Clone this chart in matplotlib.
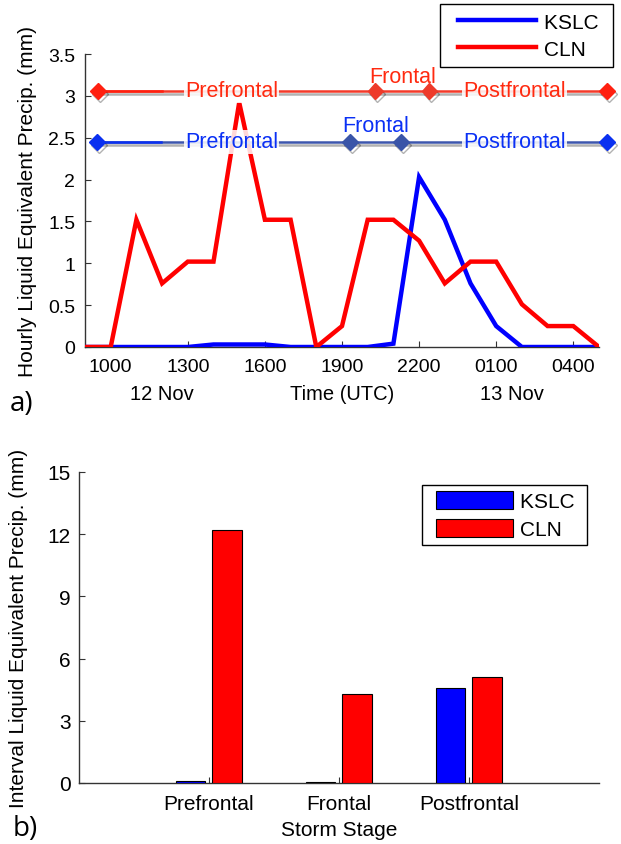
import matplotlib
matplotlib.use('Agg')
import matplotlib.pyplot as plt
import numpy as np
from matplotlib import patheffects as pe
from matplotlib.legend_handler import HandlerLine2D, HandlerPatch
from matplotlib.patches import Rectangle
from matplotlib.lines import Line2D

plt.rcParams['font.family'] = ['Liberation Sans', 'DejaVu Sans']

# ---------------- data ----------------
hour_labels = ['0900', '1000', '1100', '1200', '1300', '1400', '1500', '1600',
               '1700', '1800', '1900', '2000', '2100', '2200', '2300', '0000',
               '0100', '0200', '0300', '0400', '0500']
kslc_hourly = [0, 0, 0, 0, 0, 0.03, 0.03, 0.03, 0, 0, 0, 0, 0.04,
               2.03, 1.52, 0.76, 0.25, 0, 0, 0, 0]
cln_hourly = [0, 0, 1.52, 0.76, 1.02, 1.02, 2.92, 1.52, 1.52, 0, 0.25,
              1.52, 1.52, 1.27, 0.76, 1.02, 1.02, 0.51, 0.25, 0.25, 0]
tick_labels = ['1000', '1300', '1600', '1900', '2200', '0100', '0400']
date_labels = ['12 Nov', '13 Nov']

# storm stage boundaries (hours after 0900 UTC 12 Nov)
kslc_stage_bounds = [0.47, 10.3, 12.3, 20.3]
cln_stage_bounds = [0.5, 11.3, 13.4, 20.3]
kslc_stage_level = 2.45
cln_stage_level = 3.06

stage_names = ['Prefrontal', 'Frontal', 'Postfrontal']
kslc_interval = [0.1, 0.05, 4.6]
cln_interval = [12.2, 4.3, 5.1]

# ---------------- figure ----------------
W, H = 621, 845
fig = plt.figure(figsize=(W / 100, H / 100), dpi=100)

def ax_rect(l, r, t, b):
    return [l / W, 1 - b / H, (r - l) / W, (b - t) / H]

BLUE = '#0000ff'
RED = '#ff0000'
SPINE = '#333333'

# ----- panel a -----
ax1 = fig.add_axes(ax_rect(85, 599, 55, 348))
x = np.arange(len(hour_labels))
l_k, = ax1.plot(x, kslc_hourly, color=BLUE, lw=3.2, solid_joinstyle='miter', zorder=3)
l_c, = ax1.plot(x, cln_hourly, color=RED, lw=3.2, solid_joinstyle='miter', zorder=4)
ax1.set_xlim(0, len(hour_labels) - 1)
ax1.set_ylim(0, 3.5)
ax1.set_yticks(np.arange(0, 3.51, 0.5))
ax1.set_yticklabels(['%g' % v for v in np.arange(0, 3.51, 0.5)])
ax1.set_xticks([hour_labels.index(t) for t in tick_labels])
ax1.set_xticklabels(tick_labels)
for s in ['top', 'right']:
    ax1.spines[s].set_visible(False)
for s in ['left', 'bottom']:
    ax1.spines[s].set_color(SPINE)
    ax1.spines[s].set_linewidth(1.0)
ax1.tick_params(direction='in', length=4, width=0.8, color=SPINE, labelsize=14)
ax1.tick_params(axis='x', pad=8)
ax1.tick_params(axis='y', pad=7)
ax1.set_ylabel('Hourly Liquid Equivalent Precip. (mm)', fontsize=15)
ax1.yaxis.set_label_coords(-0.093, 0.5)
ax1.set_xlabel('Time (UTC)', fontsize=14.5)
ax1.xaxis.set_label_coords(0.5, -0.125)
date_pos = [3.0, 16.6]
for d, p in zip(date_labels, date_pos):
    ax1.text(p, -0.125, d, transform=ax1.get_xaxis_transform(), ha='center',
             va='top', fontsize=14.5)

# storm-stage overlay
shadow = [pe.SimpleLineShadow(offset=(1.5, -2.5), shadow_color='k', alpha=0.3),
          pe.Normal()]
bbox = dict(facecolor='white', edgecolor='none', alpha=0.85, pad=1.0)

def stage_overlay(bounds, level, line_col, end_col, mid_col, txt_col, frontal_dy):
    ax1.plot([bounds[0], bounds[-1]], [level, level], color=line_col, lw=1.8,
             clip_on=False, zorder=6, path_effects=shadow)
    ax1.plot([bounds[0], bounds[0] + 2.5], [level, level], color=end_col, lw=1.8,
             clip_on=False, zorder=6)
    ax1.plot([bounds[0], bounds[-1]], [level, level], ls='none', marker='D',
             ms=8, color=end_col, clip_on=False, zorder=7, path_effects=shadow)
    ax1.plot(bounds[1:3], [level, level], ls='none', marker='D', ms=8,
             color=mid_col, clip_on=False, zorder=7, path_effects=shadow)
    ax1.text(5.7, level, stage_names[0], color=txt_col, ha='center', va='center',
             fontsize=15.5, bbox=bbox, zorder=8)
    ax1.text(16.7, level, stage_names[2], color=txt_col, ha='center', va='center',
             fontsize=15.5, bbox=bbox, zorder=8)
    ax1.text((bounds[1] + bounds[2]) / 2, level + frontal_dy, stage_names[1],
             color=txt_col, ha='center', va='center', fontsize=15.5, zorder=8)

stage_overlay(cln_stage_bounds, cln_stage_level, '#f43a2a', '#ff2010', '#ee3a2a',
              '#ff2a10', 0.17)
stage_overlay(kslc_stage_bounds, kslc_stage_level, '#3d56ad', '#0a30f0', '#3a55a8',
              '#0a30f5', 0.19)

leg1 = ax1.legend([l_k, l_c], ['KSLC ', 'CLN'], loc='upper right',
                  bbox_to_anchor=(613 / W, 1 - 5 / H), bbox_transform=fig.transFigure,
                  fontsize=15, frameon=True, fancybox=False, framealpha=1,
                  edgecolor='k', borderpad=0.42, labelspacing=0.38,
                  handlelength=4.6, handletextpad=-0.05, borderaxespad=0,
                  handler_map={Line2D: HandlerLine2D(marker_pad=0.45, numpoints=2)})
leg1.get_frame().set_linewidth(1.0)

fig.text(22 / W, 1 - 404 / H, 'a)', fontsize=20, family=['Open Sans', 'DejaVu Sans'],
         ha='center', va='center')

# ----- panel b -----
ax2 = fig.add_axes(ax_rect(79, 599, 473, 784))
pos = np.arange(1, len(stage_names) + 1)
b_k = ax2.bar(pos - 0.143, kslc_interval, width=0.227, color=BLUE, edgecolor='k',
              linewidth=0.8, zorder=3)
b_c = ax2.bar(pos + 0.14, cln_interval, width=0.227, color=RED, edgecolor='k',
              linewidth=0.8, zorder=3)
ax2.set_xlim(0, len(stage_names) + 1)
ax2.set_ylim(0, 15)
ax2.set_yticks(np.arange(0, 15.1, 3))
ax2.set_xticks(pos)
ax2.set_xticklabels(stage_names)
for s in ['top', 'right']:
    ax2.spines[s].set_visible(False)
for s in ['left', 'bottom']:
    ax2.spines[s].set_color(SPINE)
    ax2.spines[s].set_linewidth(1.0)
ax2.tick_params(direction='in', length=4, width=0.8, color=SPINE, labelsize=15)
ax2.tick_params(axis='x', pad=8)
ax2.tick_params(axis='y', pad=6)
ax2.set_ylabel('Interval Liquid Equivalent Precip. (mm)', fontsize=15)
ax2.yaxis.set_label_coords(-0.098, 0.5)
ax2.set_xlabel('Storm Stage', fontsize=15)
ax2.xaxis.set_label_coords(0.5, -0.118)


def inset_rect(legend, orig_handle, xdescent, ydescent, width, height, fontsize):
    p = 0.35 * fontsize
    return Rectangle((-xdescent + p, -ydescent), width - 2 * p, height)

leg2 = ax2.legend([b_k[0], b_c[0]], ['KSLC ', 'CLN'], loc='upper right',
                  bbox_to_anchor=(587 / W, 1 - 486 / H), bbox_transform=fig.transFigure,
                  fontsize=15, frameon=True, fancybox=False, framealpha=1,
                  edgecolor='k', borderpad=0.3, labelspacing=0.35,
                  handlelength=4.4, handleheight=0.95, handletextpad=0.0,
                  borderaxespad=0,
                  handler_map={Rectangle: HandlerPatch(patch_func=inset_rect)})
leg2.get_frame().set_linewidth(1.0)

fig.text(25 / W, 1 - 829 / H, 'b)', fontsize=20, family=['Open Sans', 'DejaVu Sans'],
         ha='center', va='center')

fig.savefig('out.png', dpi=100)
